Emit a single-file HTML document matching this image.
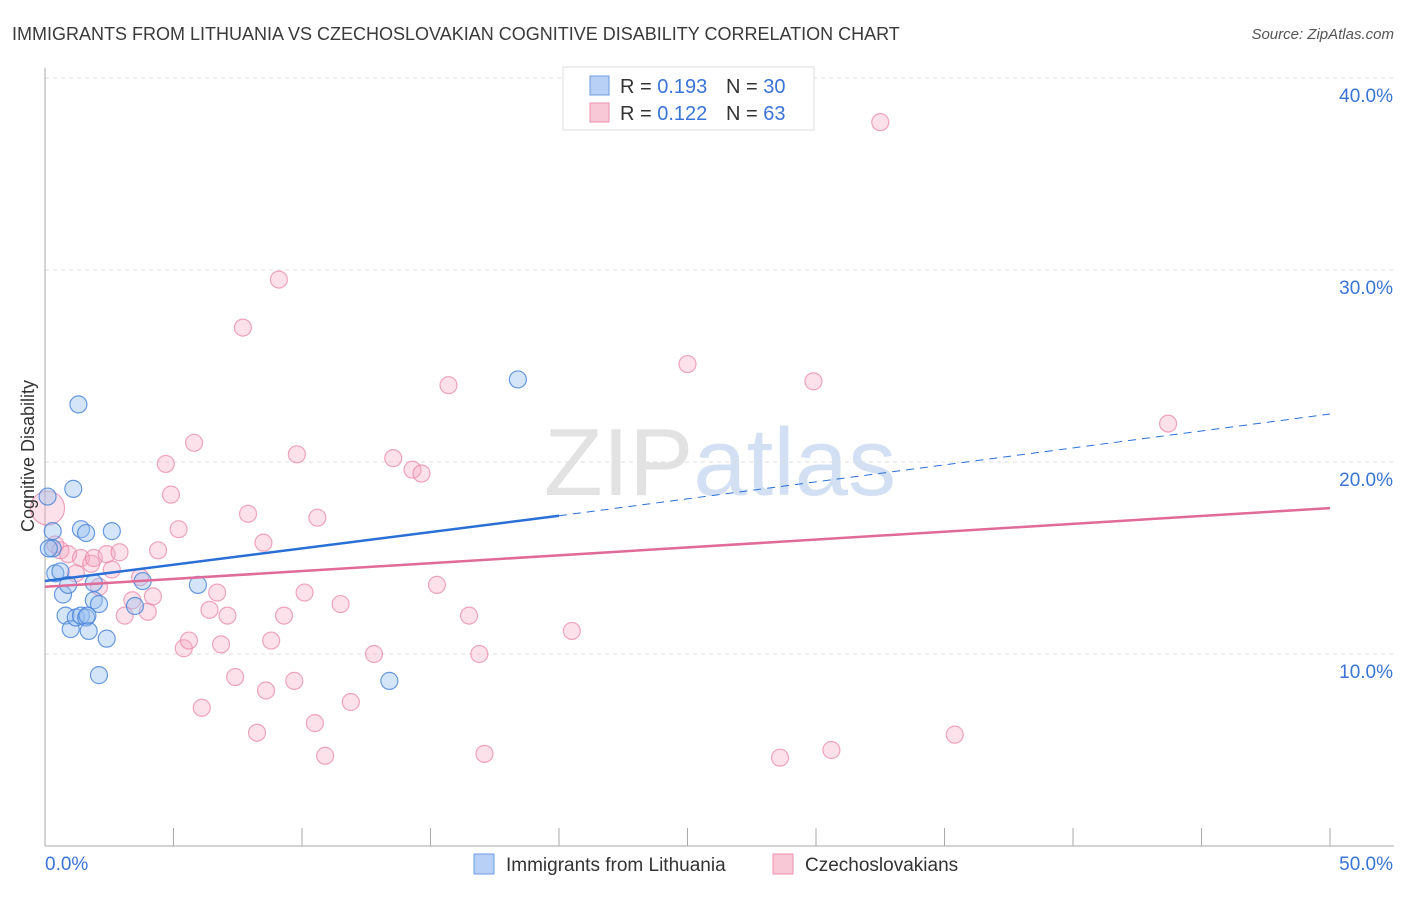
<!DOCTYPE html>
<html><head><meta charset="utf-8"><style>
body{margin:0;background:#fff;font-family:"Liberation Sans",sans-serif}
svg text{font-family:"Liberation Sans",sans-serif}
</style></head><body>
<svg width="1406" height="892" xmlns="http://www.w3.org/2000/svg">
<text x="12" y="40" font-size="18" fill="#3a3a3a">IMMIGRANTS FROM LITHUANIA VS CZECHOSLOVAKIAN COGNITIVE DISABILITY CORRELATION CHART</text>
<text x="1394" y="39" font-size="15" fill="#555" font-style="italic" text-anchor="end">Source: ZipAtlas.com</text>
<text x="720" y="495" font-size="96" fill="#e2e2e2" text-anchor="middle" font-family="Liberation Serif">ZIP<tspan fill="#d3e0f3" font-family="Liberation Sans">atlas</tspan></text>
<g id="grid"></g>
<g id="axes"></g>
<g id="marks"></g>
<text transform="translate(34,456) rotate(-90)" font-size="18" fill="#333" text-anchor="middle">Cognitive Disability</text>
<g>
<rect x="563" y="67" width="251" height="63" fill="#fff" stroke="#ddd"/>
<rect x="590" y="76" width="19" height="19" fill="#b8d0f5" stroke="#6b9be0"/>
<rect x="590" y="103" width="19" height="19" fill="#f9c8d6" stroke="#e890aa"/>
<text x="620" y="93" font-size="20" fill="#333">R = <tspan fill="#3a74d6">0.193</tspan></text>
<text x="726" y="93" font-size="20" fill="#333">N = <tspan fill="#3a74d6">30</tspan></text>
<text x="620" y="120" font-size="20" fill="#333">R = <tspan fill="#3a74d6">0.122</tspan></text>
<text x="726" y="120" font-size="20" fill="#333">N = <tspan fill="#3a74d6">63</tspan></text>
</g>
<g>
<rect x="474" y="854" width="20" height="20" fill="#b8d0f5" stroke="#6b9be0"/>
<text x="506" y="871" font-size="19" fill="#333">Immigrants from Lithuania</text>
<rect x="773" y="854" width="20" height="20" fill="#f9c8d6" stroke="#e890aa"/>
<text x="805" y="871" font-size="19" fill="#333">Czechoslovakians</text>
</g>
</svg>
<script>
const xTicks=[0,5,10,15,20,25,30,35,40,45,50];
const yTicks=[10,20,30,40];
const blueX=[0.1,0.3,0.3,0.4,0.6,0.7,0.8,0.9,1.0,1.1,1.2,1.3,1.4,1.4,1.6,1.6,1.7,1.9,1.9,2.1,2.1,2.4,2.6,3.5,3.8,5.95,13.4,18.4,1.65,0.15];
const blueY=[18.2,15.5,16.4,14.2,14.3,13.1,12.0,13.6,11.3,18.6,11.9,23.0,16.5,12.0,11.9,16.3,11.2,13.7,12.8,12.6,8.9,10.8,16.4,12.5,13.8,13.6,8.6,24.3,12.0,15.5];
const pinkX=[0.1,0.4,0.6,0.9,1.2,1.4,1.8,1.9,2.1,2.4,2.6,2.9,3.1,3.4,3.7,4.0,4.2,4.4,4.7,4.9,5.2,5.4,5.6,5.8,6.1,6.4,6.7,6.85,7.1,7.4,7.7,7.9,8.25,8.5,8.6,8.8,9.1,9.3,9.7,9.8,10.1,10.5,10.6,10.9,11.5,11.9,12.8,13.55,14.3,14.65,15.25,15.7,16.5,16.9,17.1,20.5,25.0,28.6,29.9,30.6,32.5,35.4,43.7];
const pinkY=[17.6,15.7,15.4,15.2,14.2,15.0,14.7,15.0,13.5,15.2,14.4,15.3,12.0,12.8,14.0,12.2,13.0,15.4,19.9,18.3,16.5,10.3,10.7,21.0,7.2,12.3,13.2,10.5,12.0,8.8,27.0,17.3,5.9,15.8,8.1,10.7,29.5,12.0,8.6,20.4,13.2,6.4,17.1,4.7,12.6,7.5,10.0,20.2,19.6,19.4,13.6,24.0,12.0,10.0,4.8,11.2,25.1,4.6,24.2,5.0,37.7,5.8,22.0];
const X0=45,X1=1330,Y0=846,PY=19.2;
const sx=v=>X0+(X1-X0)*v/50, sy=v=>Y0-v*PY;
const NS="http://www.w3.org/2000/svg";
function mk(t,a,p){const e=document.createElementNS(NS,t);for(const k in a)e.setAttribute(k,a[k]);p.appendChild(e);return e;}
const grid=document.getElementById('grid'),axes=document.getElementById('axes'),marks=document.getElementById('marks');
yTicks.forEach(v=>{const l=mk('line',{x1:X0,x2:1394,y1:sy(v),y2:sy(v),stroke:'#ddd','stroke-dasharray':'4,4'},grid);


const t=mk('text',{x:1393,y:sy(v)+24,'font-size':19,fill:'#3a74d6','text-anchor':'end'},axes);t.textContent=v.toFixed(1)+'%';

});
mk('line',{x1:X0,x2:X0,y1:68,y2:Y0,stroke:'#aaa'},axes);
mk('line',{x1:X0,x2:1394,y1:Y0,y2:Y0,stroke:'#aaa'},axes);
xTicks.forEach(v=>{const l=mk('line',{x1:sx(v),x2:sx(v),y1:Y0,y2:Y0-18,stroke:'#aaa'},axes);

});
[[0,'start',45],[50,'end',1393]].forEach(([v,a,x])=>{const t=mk('text',{x:x,y:870,'font-size':19,fill:'#3a74d6','text-anchor':a},axes);t.textContent=v.toFixed(1)+'%';

});
pinkX.forEach((x,i)=>{const c=mk('circle',{cx:sx(x),cy:sy(pinkY[i]),r:i==0?17:8.5,fill:'rgba(246,170,195,0.35)',stroke:'rgba(232,130,165,0.7)','stroke-width':1.2},marks);

});
blueX.forEach((x,i)=>{const c=mk('circle',{cx:sx(x),cy:sy(blueY[i]),r:8.5,fill:'rgba(150,190,240,0.4)',stroke:'rgba(70,130,215,0.8)','stroke-width':1.2},marks);

});
const bt=[13.8,17.2,22.5],pt=[13.5,17.6];
let l=mk('line',{x1:sx(0),y1:sy(bt[0]),x2:sx(20),y2:sy(bt[1]),stroke:'#2a6fd6','stroke-width':2.5},marks);


l=mk('line',{x1:sx(20),y1:sy(bt[1]),x2:sx(50),y2:sy(bt[2]),stroke:'#2a6fd6','stroke-width':1,'stroke-dasharray':'8,6'},marks);


l=mk('line',{x1:sx(0),y1:sy(pt[0]),x2:sx(50),y2:sy(pt[1]),stroke:'#e06a98','stroke-width':2.5},marks);


</script>
</body></html>
